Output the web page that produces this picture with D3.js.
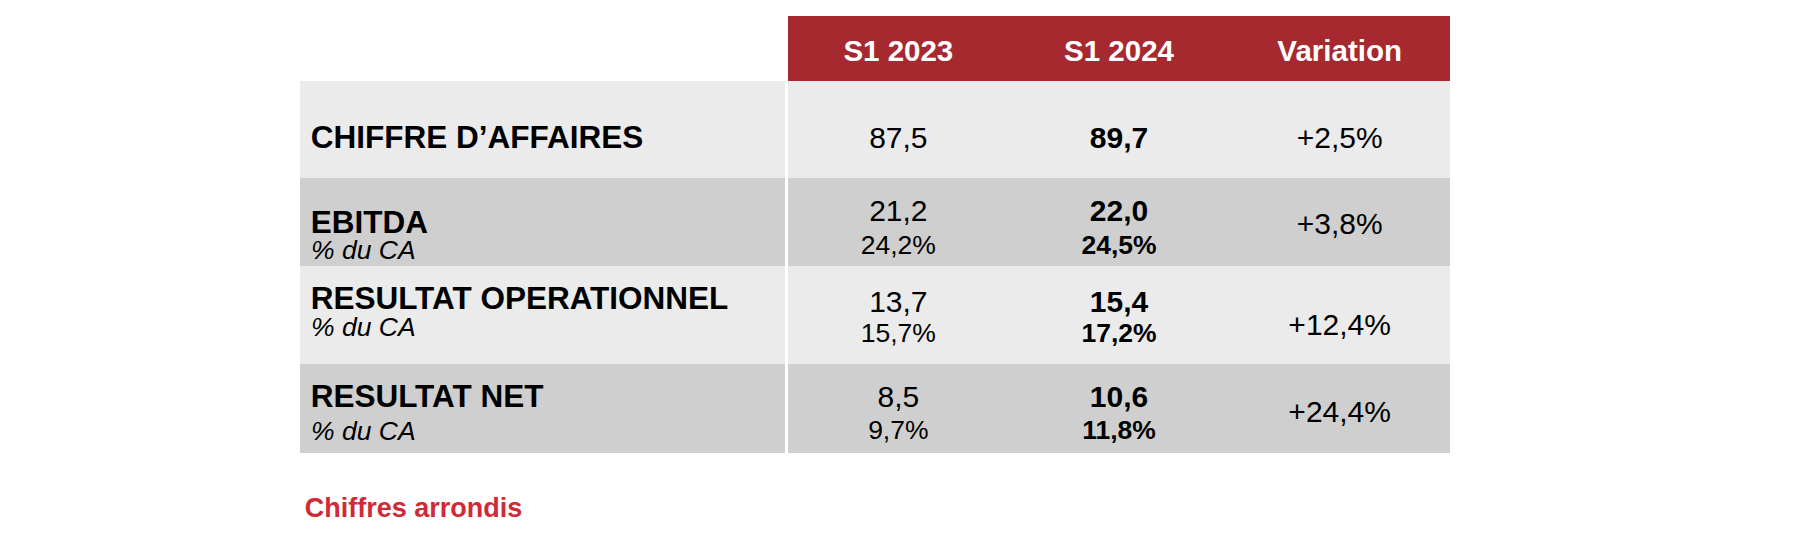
<!DOCTYPE html>
<html>
<head>
<meta charset="utf-8">
<script src="https://cdn.jsdelivr.net/npm/d3@7"></script>
<style>
  html, body { margin: 0; padding: 0; background: #ffffff; }
  svg { display: block; }
  text { font-family: "Liberation Sans", Arial, sans-serif; }
</style>
</head>
<body>
<svg id="chart" width="1814" height="554"></svg>
<script>
// ---- Data ----
const rowLabels = ["CHIFFRE D’AFFAIRES", "EBITDA", "RESULTAT OPERATIONNEL", "RESULTAT NET"];
const subLabels = [null, "% du CA", "% du CA", "% du CA"];
const columns = ["S1 2023", "S1 2024", "Variation"];
const s1_2023 = [87.5, 21.2, 13.7, 8.5];
const s1_2024 = [89.7, 22.0, 15.4, 10.6];
const margin2023 = [null, 24.2, 15.7, 9.7];
const margin2024 = [null, 24.5, 17.2, 11.8];
const variation = [2.5, 3.8, 12.4, 24.4];
const footnote = "Chiffres arrondis";

// ---- Layout ----
const labelX0 = 300, labelX1 = 785;
const dataX0 = 788, dataX1 = 1450;
const headerY0 = 16, headerY1 = 81;
const rowHeights = [97, 88, 98, 89];
const offLabel = [67, 55.3, 43.3, 42.7];
const offLabelSub = [null, 81.3, 70, 76];
const offVal = [67, 42.7, 45.7, 42.7];
const offValSub = [null, 76, 75.7, 75.3];
const offVar = [67, 56, 69, 57.7];
const rowFills = ["#ebebeb", "#cfcfcf", "#ebebeb", "#cfcfcf"];
const red = "#a5292f";

const fr = d3.formatLocale({decimal: ",", thousands: " ", grouping: [3], currency: ["", "€"]});
const f1 = fr.format(".1f");
const pct = v => f1(v) + "%";
const sgnPct = v => (v >= 0 ? "+" : "") + f1(v) + "%";

const svg = d3.select("#chart");

const x = d3.scaleBand().domain(columns).range([dataX0, dataX1]).padding(0);
const rowTops = [];
rowHeights.reduce((acc, h, i) => { rowTops[i] = acc; return acc + h; }, headerY1);
const y = d3.scaleOrdinal().domain(d3.range(rowLabels.length)).range(rowTops);
const cx = c => x(c) + x.bandwidth() / 2;

// Header
svg.append("rect")
  .attr("x", dataX0).attr("y", headerY0)
  .attr("width", dataX1 - dataX0).attr("height", headerY1 - headerY0)
  .attr("fill", red);

svg.selectAll("text.head").data(columns).join("text")
  .attr("class", "head")
  .attr("x", d => cx(d))
  .attr("y", 60.7)
  .attr("text-anchor", "middle")
  .attr("font-size", 29.5)
  .attr("font-weight", "bold")
  .attr("fill", "#ffffff")
  .text(d => d);

// Rows
const rows = svg.selectAll("g.row").data(rowLabels.map((l, i) => i)).join("g")
  .attr("class", "row")
  .attr("transform", i => `translate(0,${y(i)})`);

rows.append("rect")
  .attr("x", labelX0).attr("y", 0)
  .attr("width", labelX1 - labelX0).attr("height", i => rowHeights[i])
  .attr("fill", i => rowFills[i]);
rows.append("rect")
  .attr("x", dataX0).attr("y", 0)
  .attr("width", dataX1 - dataX0).attr("height", i => rowHeights[i])
  .attr("fill", i => rowFills[i]);

// Labels
rows.append("text")
  .attr("x", 310.7)
  .attr("y", i => offLabel[i])
  .attr("font-size", 31.5)
  .attr("font-weight", "bold")
  .attr("fill", "#000")
  .text(i => rowLabels[i]);

rows.filter(i => subLabels[i] !== null).append("text")
  .attr("x", 311)
  .attr("y", i => offLabelSub[i])
  .attr("font-size", 26.5)
  .attr("font-style", "italic")
  .attr("fill", "#000")
  .text(i => subLabels[i]);

// S1 2023
rows.append("text")
  .attr("x", cx("S1 2023")).attr("y", i => offVal[i])
  .attr("text-anchor", "middle").attr("font-size", 30).attr("fill", "#000")
  .text(i => f1(s1_2023[i]));
rows.filter(i => margin2023[i] !== null).append("text")
  .attr("x", cx("S1 2023")).attr("y", i => offValSub[i])
  .attr("text-anchor", "middle").attr("font-size", 26.5).attr("fill", "#000")
  .text(i => pct(margin2023[i]));

// S1 2024 (bold)
rows.append("text")
  .attr("x", cx("S1 2024")).attr("y", i => offVal[i])
  .attr("text-anchor", "middle").attr("font-size", 30).attr("font-weight", "bold").attr("fill", "#000")
  .text(i => f1(s1_2024[i]));
rows.filter(i => margin2024[i] !== null).append("text")
  .attr("x", cx("S1 2024")).attr("y", i => offValSub[i])
  .attr("text-anchor", "middle").attr("font-size", 26.5).attr("font-weight", "bold").attr("fill", "#000")
  .text(i => pct(margin2024[i]));

// Variation
rows.append("text")
  .attr("x", cx("Variation")).attr("y", i => offVar[i])
  .attr("text-anchor", "middle").attr("font-size", 30).attr("fill", "#000")
  .text(i => sgnPct(variation[i]));

// Footnote
svg.append("text")
  .attr("x", 304.7).attr("y", 516.7)
  .attr("font-size", 27).attr("font-weight", "bold")
  .attr("fill", "#d02a38")
  .text(footnote);
</script>
</body>
</html>
